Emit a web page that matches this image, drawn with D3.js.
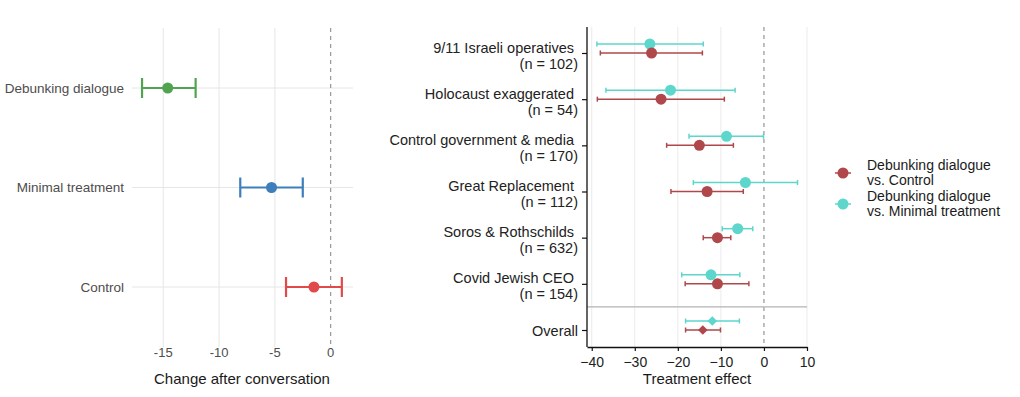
<!DOCTYPE html>
<html>
<head>
<meta charset="utf-8">
<script src="https://cdn.jsdelivr.net/npm/d3@7"></script>
<style>
  body { margin: 0; background: #fff; }
  svg { display: block; font-family: "Liberation Sans", Arial, sans-serif; }
</style>
</head>
<body>
<svg id="chart" width="1020" height="397"></svg>
<script>
// left panel data
var groups = ['Debunking dialogue', 'Minimal treatment', 'Control'];
var groupMean = [-14.6, -5.3, -1.5];
var groupLow = [-16.9, -8.1, -4.0];
var groupHigh = [-12.1, -2.5, 1.0];
var groupColors = ['#52a34f', '#3d7fbb', '#e04a4b'];
var leftTicks = [-15, -10, -5, 0];

// right panel data
var conspiracies = ['9/11 Israeli operatives', 'Holocaust exaggerated', 'Control government & media',
  'Great Replacement', 'Soros & Rothschilds', 'Covid Jewish CEO', 'Overall'];
var sampleSizes = [102, 54, 170, 112, 632, 154, null];
var controlMean = [-26.1, -23.9, -15.0, -13.2, -10.8, -10.8, -14.2];
var controlLow = [-38.0, -38.7, -22.6, -21.6, -14.1, -18.3, -18.2];
var controlHigh = [-14.3, -9.2, -7.1, -4.8, -7.7, -3.5, -10.1];
var minimalMean = [-26.5, -21.7, -8.7, -4.3, -6.1, -12.3, -12.0];
var minimalLow = [-38.8, -36.7, -17.4, -16.4, -9.7, -19.1, -18.2];
var minimalHigh = [-14.1, -6.7, -0.1, 7.8, -2.6, -5.6, -5.7];
var rightTicks = [-40, -30, -20, -10, 0, 10];
var seriesNames = ['Debunking dialogue\nvs. Control', 'Debunking dialogue\nvs. Minimal treatment'];
var seriesColors = ['#b0474b', '#5dd6cc'];

var svg = d3.select('#chart');

/* ---------- left panel ---------- */

var xL = d3.scaleLinear().domain([-17.8, 2]).range([132, 353]);
var yL = d3.scalePoint().domain(groups).range([88, 287]);
var left = svg.append('g');

// vertical grid
left.selectAll('line.vgrid')
  .data(leftTicks.filter(function (t) { return t !== 0; }))
  .enter().append('line')
  .attr('x1', function (d) { return xL(d); })
  .attr('x2', function (d) { return xL(d); })
  .attr('y1', 28).attr('y2', 347)
  .attr('stroke', '#e6e6e6').attr('stroke-width', 1);

// horizontal grid
left.selectAll('line.hgrid')
  .data(groups)
  .enter().append('line')
  .attr('x1', xL.range()[0]).attr('x2', xL.range()[1])
  .attr('y1', function (d) { return yL(d); })
  .attr('y2', function (d) { return yL(d); })
  .attr('stroke', '#e6e6e6').attr('stroke-width', 1);

// zero line
left.append('line')
  .attr('x1', xL(0)).attr('x2', xL(0))
  .attr('y1', 28).attr('y2', 347)
  .attr('stroke', '#8c8c8c').attr('stroke-width', 1.1)
  .attr('stroke-dasharray', '4,4');

// error bars and points
groups.forEach(function (g, i) {
  var y = yL(g);
  var c = groupColors[i];
  left.append('line')
    .attr('x1', xL(groupLow[i])).attr('x2', xL(groupHigh[i]))
    .attr('y1', y).attr('y2', y)
    .attr('stroke', c).attr('stroke-width', 2.2);
  [groupLow[i], groupHigh[i]].forEach(function (v) {
    left.append('line')
      .attr('x1', xL(v)).attr('x2', xL(v))
      .attr('y1', y - 10).attr('y2', y + 10)
      .attr('stroke', c).attr('stroke-width', 2.2);
  });
  left.append('circle')
    .attr('cx', xL(groupMean[i])).attr('cy', y)
    .attr('r', 5.5)
    .attr('fill', c);
});

// y labels
left.selectAll('text.ylab')
  .data(groups)
  .enter().append('text')
  .attr('x', 124)
  .attr('y', function (d) { return yL(d) + 4.8; })
  .attr('text-anchor', 'end')
  .attr('fill', '#4d4d4d')
  .style('font-size', '13.5px')
  .text(function (d) { return d; });

// x tick labels
left.selectAll('text.xtick')
  .data(leftTicks)
  .enter().append('text')
  .attr('x', function (d) { return xL(d); })
  .attr('y', 357)
  .attr('text-anchor', 'middle')
  .attr('fill', '#4d4d4d')
  .style('font-size', '13px')
  .text(function (d) { return d; });

left.append('text')
  .attr('x', 242).attr('y', 384)
  .attr('text-anchor', 'middle')
  .attr('fill', '#1a1a1a')
  .style('font-size', '15px')
  .text('Change after conversation');

/* ---------- right panel ---------- */

var xR = d3.scaleLinear().domain([-41.1, 10]).range([587, 807]);
var yR = d3.scalePoint().domain(conspiracies).range([53, 330]);
var dodge = -9;
var right = svg.append('g');

// vertical grid
right.selectAll('line.vgrid')
  .data(rightTicks.filter(function (t) { return t !== 0; }))
  .enter().append('line')
  .attr('x1', function (d) { return xR(d); })
  .attr('x2', function (d) { return xR(d); })
  .attr('y1', 27).attr('y2', 347)
  .attr('stroke', '#ebebeb').attr('stroke-width', 1);

// zero line
right.append('line')
  .attr('x1', xR(0)).attr('x2', xR(0))
  .attr('y1', 27).attr('y2', 347)
  .attr('stroke', '#8c8c8c').attr('stroke-width', 1.1)
  .attr('stroke-dasharray', '4,4');

// separator above "Overall"
var sepY = (yR(conspiracies[5]) + yR(conspiracies[6])) / 2;
right.append('line')
  .attr('x1', xR.range()[0]).attr('x2', xR.range()[1])
  .attr('y1', sepY).attr('y2', sepY)
  .attr('stroke', '#b3b3b3').attr('stroke-width', 1.3);

/**
 * Draws one series of error bars with points
 */
function drawSeries(mean, low, high, color, offset) {
  conspiracies.forEach(function (c, i) {
    var y = yR(c) + offset;
    var overall = c === 'Overall';
    right.append('line')
      .attr('x1', xR(low[i])).attr('x2', xR(high[i]))
      .attr('y1', y).attr('y2', y)
      .attr('stroke', color).attr('stroke-width', 1.5);
    [low[i], high[i]].forEach(function (v) {
      right.append('line')
        .attr('x1', xR(v)).attr('x2', xR(v))
        .attr('y1', y - 2.5).attr('y2', y + 2.5)
        .attr('stroke', color).attr('stroke-width', 1.5);
    });
    if (overall) {
      right.append('path')
        .attr('d', d3.symbol(d3.symbolDiamond2, 60)())
        .attr('transform', 'translate(' + xR(mean[i]) + ',' + y + ')')
        .attr('fill', color);
    } else {
      right.append('circle')
        .attr('cx', xR(mean[i])).attr('cy', y)
        .attr('r', 5.5)
        .attr('fill', color);
    }
  });
}

drawSeries(minimalMean, minimalLow, minimalHigh, seriesColors[1], dodge);
drawSeries(controlMean, controlLow, controlHigh, seriesColors[0], 0);

// axes
var xAxis = right.append('g')
  .attr('transform', 'translate(0,347)')
  .call(d3.axisBottom(xR).tickValues(rightTicks).tickSize(4).tickSizeOuter(0));
xAxis.select('.domain').attr('stroke', '#111').attr('stroke-width', 1.3);
xAxis.selectAll('.tick line').attr('stroke', '#111').attr('stroke-width', 1.2);
xAxis.selectAll('.tick text')
  .attr('fill', '#222')
  .attr('dy', '0.95em')
  .style('font-family', '"Liberation Sans", Arial, sans-serif')
  .style('font-size', '14px');

var yAxis = right.append('g')
  .attr('transform', 'translate(587,0)')
  .call(d3.axisLeft(yR).tickSize(5).tickSizeOuter(0).tickPadding(9));
yAxis.select('.domain').attr('stroke', '#111').attr('stroke-width', 1.3)
  .attr('d', 'M0,27V347');
yAxis.selectAll('.tick line').attr('stroke', '#111').attr('stroke-width', 1.2);
yAxis.selectAll('.tick text')
  .attr('fill', '#222')
  .style('font-family', '"Liberation Sans", Arial, sans-serif')
  .style('font-size', '14.5px')
  .each(function (d, i) {
    var t = d3.select(this).text('').attr('dy', null);
    if (sampleSizes[i] === null) {
      t.append('tspan').attr('x', -9).attr('y', 5).text(d);
    } else {
      t.append('tspan').attr('x', -9).attr('y', -1).text(d + ' ');
      t.append('tspan').attr('x', -9).attr('y', 15).text('(n = ' + sampleSizes[i] + ')');
    }
  });

right.append('text')
  .attr('x', 697).attr('y', 384)
  .attr('text-anchor', 'middle')
  .attr('fill', '#1a1a1a')
  .style('font-size', '15px')
  .text('Treatment effect');

/* ---------- legend ---------- */

var legend = svg.append('g');
var legendY = [173, 204];
seriesNames.forEach(function (name, i) {
  var y = legendY[i];
  legend.append('line')
    .attr('x1', 835).attr('x2', 851)
    .attr('y1', y).attr('y2', y)
    .attr('stroke', seriesColors[i]).attr('stroke-width', 1.5);
  legend.append('circle')
    .attr('cx', 843).attr('cy', y).attr('r', 5.5)
    .attr('fill', seriesColors[i]);
  var lines = name.split('\n');
  legend.append('text')
    .attr('x', 867)
    .attr('fill', '#1a1a1a')
    .style('font-size', '14px')
    .selectAll('tspan')
    .data(lines)
    .enter().append('tspan')
    .attr('x', 867)
    .attr('y', function (d, j) { return y - 3 + j * 15; })
    .text(function (d) { return d; });
});
</script>
</body>
</html>
